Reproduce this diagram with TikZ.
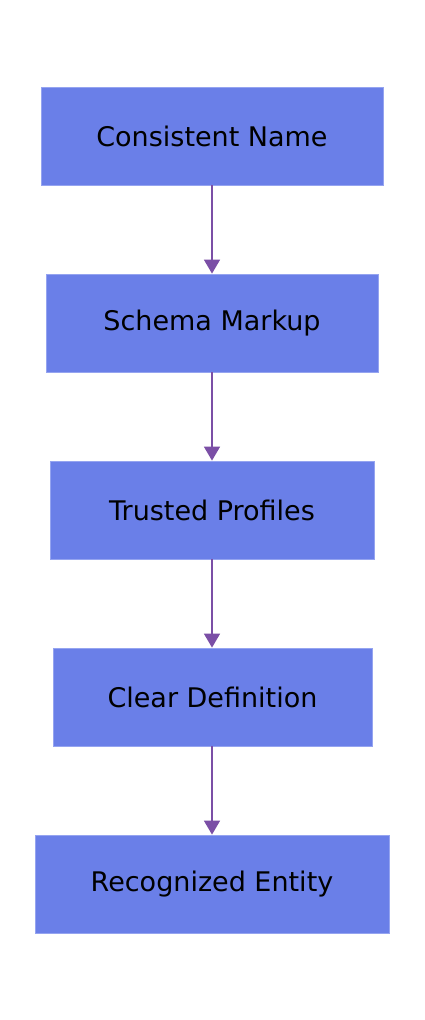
\documentclass[tikz,border=0pt]{standalone}
\usepackage{fontspec}
\setmainfont{DejaVu Sans}
\usetikzlibrary{arrows.meta}
\definecolor{boxblue}{HTML}{6A7FE8}
\definecolor{boxedge}{HTML}{95A4F0}
\definecolor{flowpurple}{HTML}{7B4FA6}

\begin{document}
\begin{tikzpicture}[x=1pt, y=-1pt,
        box/.style={draw=boxedge, line width=0.8pt, fill=boxblue, minimum height=98pt,
            inner sep=0pt, font=\fontsize{27}{32}\selectfont, text=black},
        flow/.style={draw=flowpurple, line width=1.6pt, -{Stealth[inset=0pt, length=14pt, width=16pt]}}]
        \useasboundingbox (0, 0) rectangle (424, 1020);
        \fill[white] (0, 0) rectangle (424, 1020);

        \node[box, minimum width=342pt] (name) at (212, 136) {Consistent Name};
        \node[box, minimum width=332pt] (schema) at (212, 323) {Schema Markup};
        \node[box, minimum width=324pt] (profiles) at (212, 510) {Trusted Profiles};
        \node[box, minimum width=319pt] (definition) at (212.5, 697) {Clear Definition};
        \node[box, minimum width=354pt] (entity) at (212, 884) {Recognized Entity};

        \foreach \a/\b in {name/schema, schema/profiles, profiles/definition, definition/entity}
            \draw[flow] (\a.south -| 212, 0) -- (\b.north -| 212, 0);
    \end{tikzpicture}
\end{document}
